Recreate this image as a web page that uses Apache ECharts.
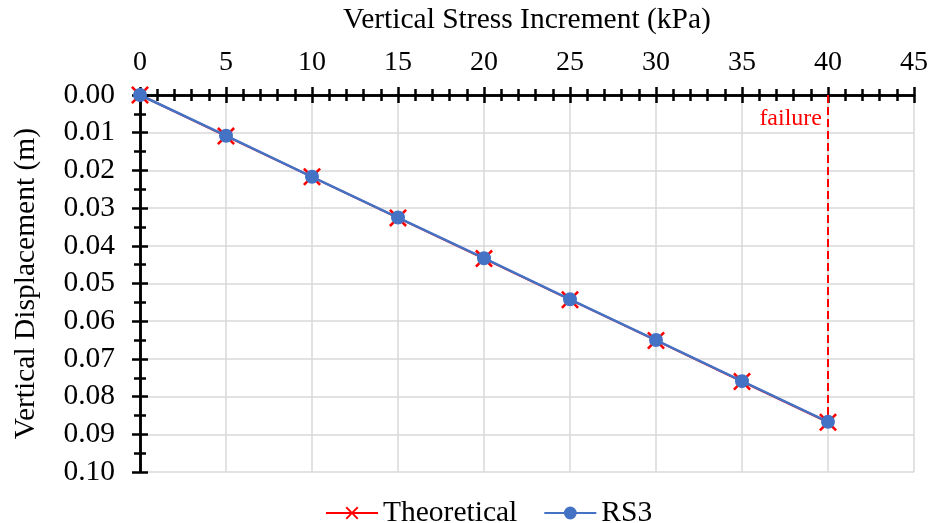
<!DOCTYPE html>
<html>
<head>
<meta charset="utf-8">
<script src="https://cdn.jsdelivr.net/npm/echarts@6/dist/echarts.min.js"></script>
<style>
  html, body { margin: 0; padding: 0; background: #fff; }
  #chart { width: 933px; height: 523px; }
</style>
</head>
<body>
<div id="chart"></div>
<script>
// Vertical stress increment (kPa)
const stress = [0, 5, 10, 15, 20, 25, 30, 35, 40];
// Vertical displacement (m)
const theoretical = [0, 0.0109, 0.0217, 0.0326, 0.0434, 0.0543, 0.0651, 0.0760, 0.0868];
const rs3 = [0, 0.0108, 0.0217, 0.0325, 0.0433, 0.0542, 0.0650, 0.0759, 0.0867];
// Failure marker
const failureStress = 40;
const failureDisp = 0.0867;
const failureLabelDisp = 0.0064;
const failureLabel = 'failure';

const FONT = '"Liberation Serif", "Times New Roman", serif';
const xCross = 'path://M1,0 L5,4 L9,0 L10,1 L6,5 L10,9 L9,10 L5,6 L1,10 L0,9 L4,5 L0,1 Z';

const pairs = (xs, ys) => xs.map((x, i) => [x, ys[i]]);

const xBase = {
  type: 'value', position: 'top', min: 0, max: 45, interval: 5,
  axisLine: { show: true, onZero: false, lineStyle: { color: '#000', width: 2.5 } },
  minorTick: { show: true, splitNumber: 5, length: 6, lineStyle: { color: '#000', width: 2.5 } },
  axisTick: { show: true, length: 8, lineStyle: { color: '#000', width: 2.5 } }
};
const yBase = {
  type: 'value', position: 'left', inverse: true, min: 0, max: 0.1, interval: 0.01,
  axisLine: { show: true, onZero: false, lineStyle: { color: '#000', width: 2.5 } },
  minorTick: { show: true, splitNumber: 2, length: 6, lineStyle: { color: '#000', width: 2.5 } },
  axisTick: { show: true, length: 8, lineStyle: { color: '#000', width: 2.5 } }
};

const chart = echarts.init(document.getElementById('chart'), null, { renderer: 'canvas' });
chart.setOption({
  animation: false,
  backgroundColor: '#fff',
  textStyle: { fontFamily: FONT },
  grid: { left: 140, top: 95, right: 19, bottom: 51, outerBoundsMode: 'none', containLabel: false },
  legend: {
    top: 493, left: 320, itemWidth: 52, itemHeight: 16, itemGap: 26,
    textStyle: { fontFamily: FONT, fontSize: 29.5, color: '#000' },
    data: ['Theoretical', 'RS3']
  },
  xAxis: [
    Object.assign({}, xBase, {
      name: 'Vertical Stress Increment (kPa)', nameLocation: 'middle', nameGap: 60,
      nameTextStyle: { fontFamily: FONT, fontSize: 29.5, color: '#000' },
      axisTick: Object.assign({}, xBase.axisTick, { inside: false }),
      axisLabel: { margin: 18, fontFamily: FONT, fontSize: 28, color: '#000' },
      splitLine: { show: true, lineStyle: { color: '#d9d9d9', width: 1.5 } }
    }),
    Object.assign({}, xBase, {
      axisTick: Object.assign({}, xBase.axisTick, { inside: true }),
      axisLabel: { show: false },
      splitLine: { show: false }
    })
  ],
  yAxis: [
    Object.assign({}, yBase, {
      name: 'Vertical Displacement (m)', nameLocation: 'middle', nameGap: 99,
      nameTextStyle: { fontFamily: FONT, fontSize: 29.5, color: '#000' },
      axisTick: Object.assign({}, yBase.axisTick, { inside: false }),
      axisLabel: { margin: 25, fontFamily: FONT, fontSize: 29.5, color: '#000',
        formatter: v => v.toFixed(2) },
      splitLine: { show: true, lineStyle: { color: '#d9d9d9', width: 1.5 } }
    }),
    Object.assign({}, yBase, {
      axisTick: Object.assign({}, yBase.axisTick, { inside: true }),
      axisLabel: { show: false },
      splitLine: { show: false }
    })
  ],
  series: [
    {
      name: 'failure-line', type: 'line', xAxisIndex: 0, yAxisIndex: 0,
      data: [[failureStress, 0], [failureStress, failureDisp]],
      symbol: 'none', silent: true, z: 1,
      lineStyle: { color: '#ff0000', width: 2, type: [8, 4] },
      markPoint: {
        symbol: 'circle', symbolSize: 0,
        label: { show: true, position: 'left', distance: 6, formatter: failureLabel,
          fontFamily: FONT, fontSize: 24, color: '#ff0000' },
        data: [{ coord: [failureStress, failureLabelDisp] }]
      }
    },
    {
      name: 'Theoretical', type: 'line', xAxisIndex: 0, yAxisIndex: 0,
      data: pairs(stress, theoretical),
      symbol: xCross, symbolSize: 18, showAllSymbol: true,
      lineStyle: { color: '#ff0000', width: 2 },
      itemStyle: { color: '#ff0000' }, z: 2
    },
    {
      name: 'RS3', type: 'line', xAxisIndex: 0, yAxisIndex: 0,
      data: pairs(stress, rs3),
      symbol: 'circle', symbolSize: 14, showAllSymbol: true,
      lineStyle: { color: '#4472c4', width: 2.5 },
      itemStyle: { color: '#4472c4' }, z: 3
    }
  ]
});
</script>
</body>
</html>
